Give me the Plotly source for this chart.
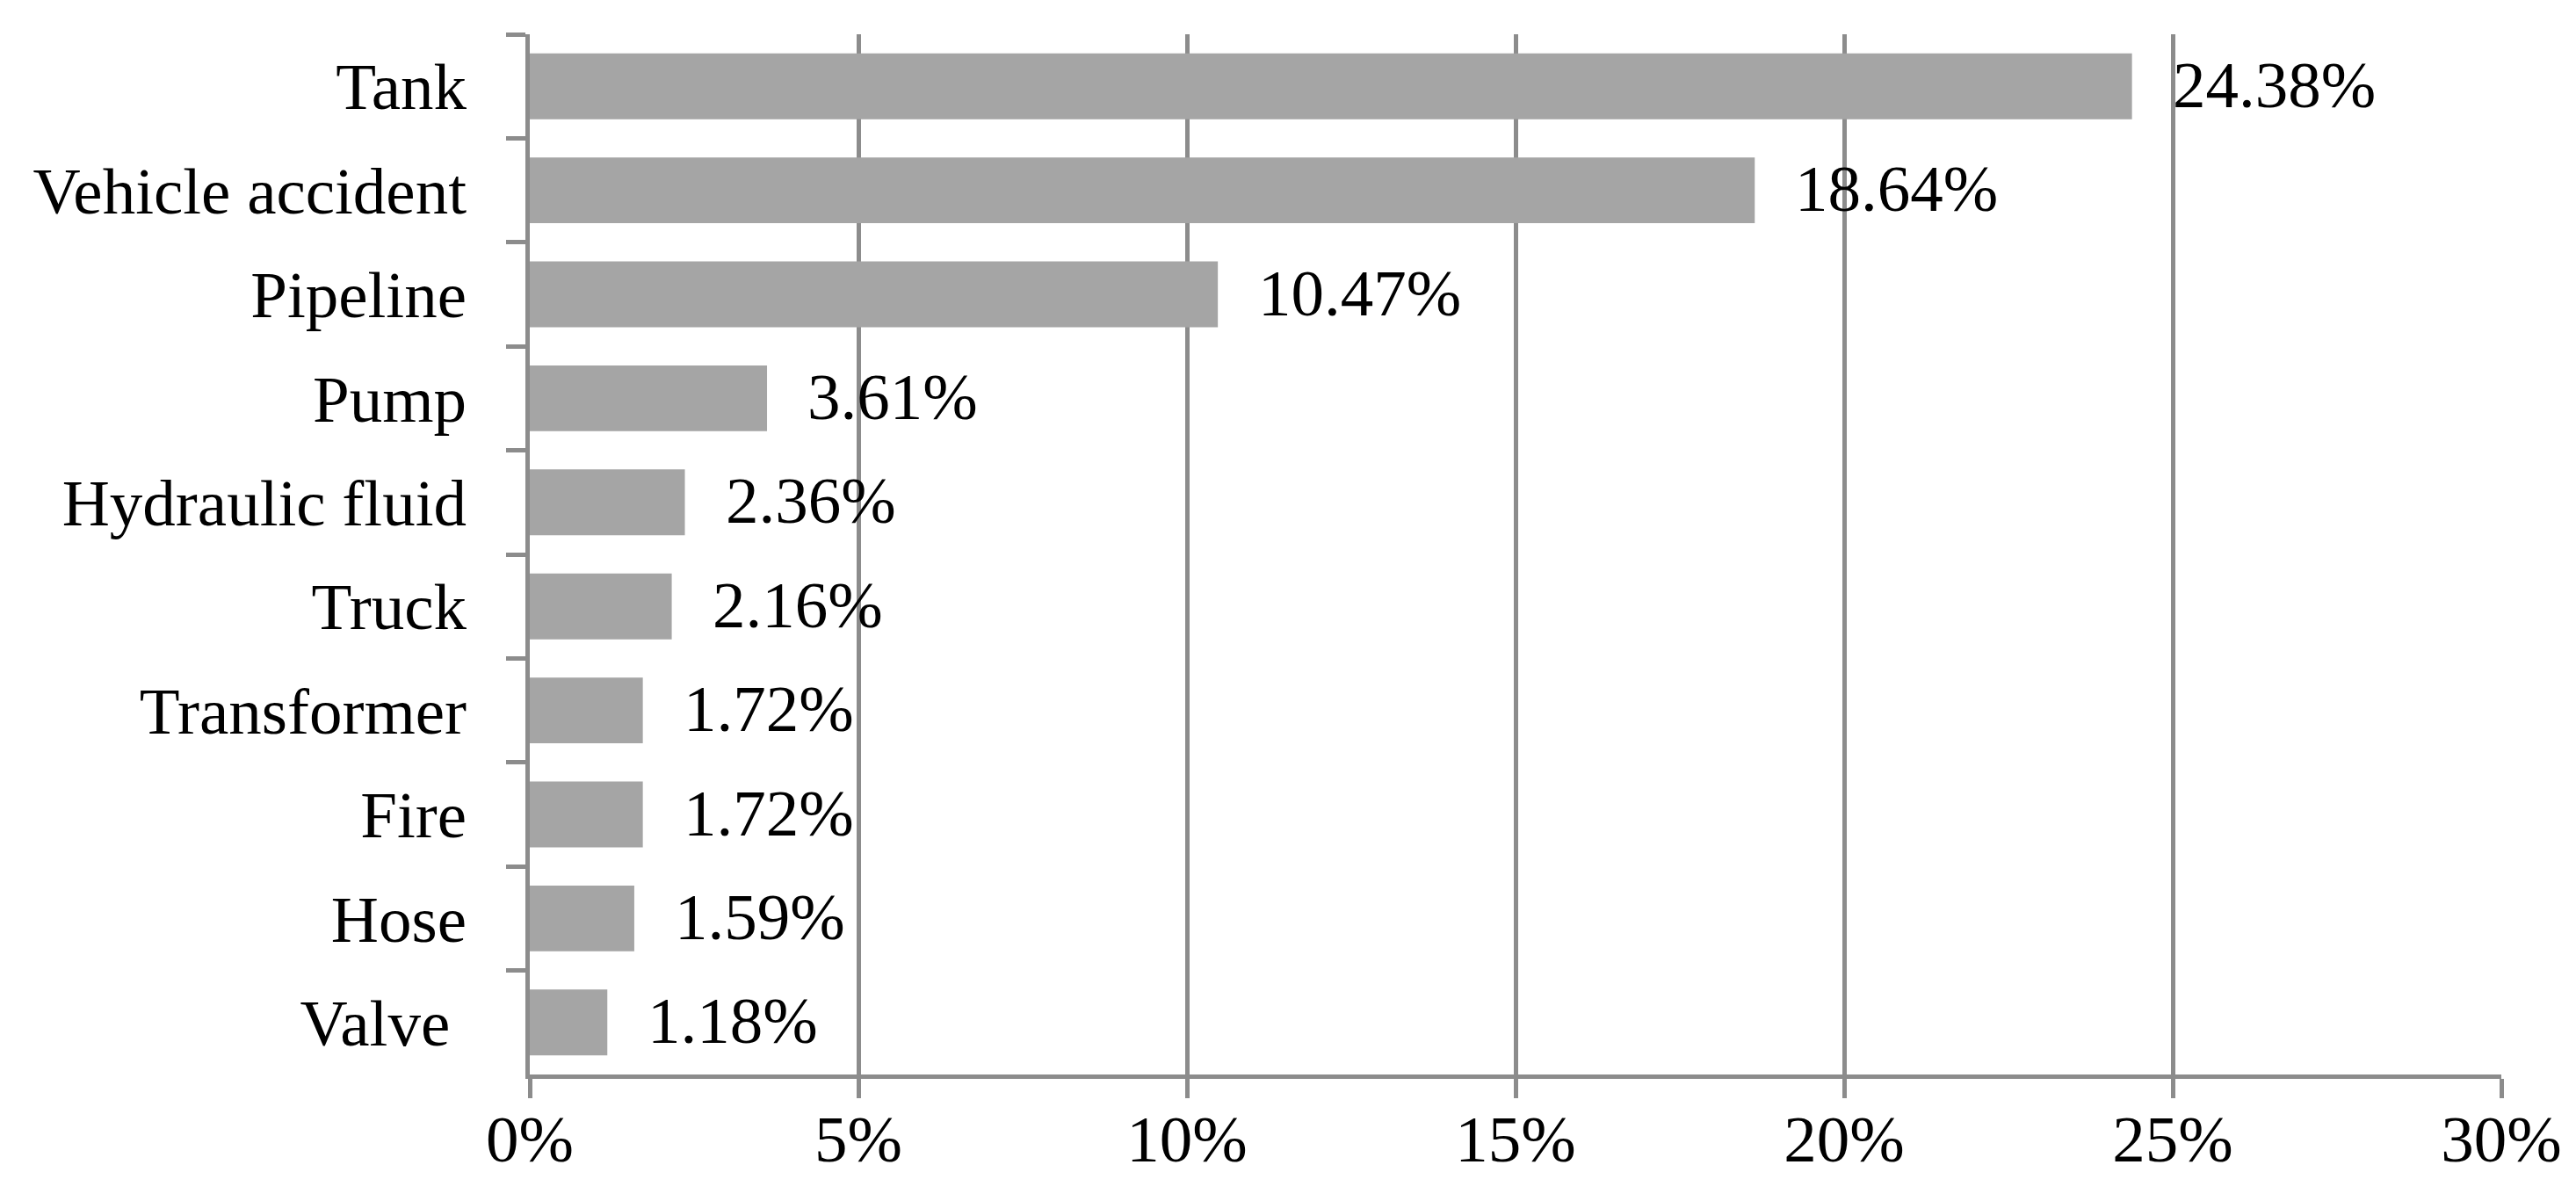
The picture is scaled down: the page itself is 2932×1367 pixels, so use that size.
import plotly.graph_objects as go

categories = ["Tank", "Vehicle accident", "Pipeline", "Pump", "Hydraulic fluid",
              "Truck", "Transformer", "Fire", "Hose", "Valve\u00a0"]
values = [24.38, 18.64, 10.47, 3.61, 2.36, 2.16, 1.72, 1.72, 1.59, 1.18]
value_labels = ["24.38%", "18.64%", "10.47%", "3.61%", "2.36%", "2.16%",
                "1.72%", "1.72%", "1.59%", "1.18%"]
x_ticks = [0, 5, 10, 15, 20, 25, 30]
x_tick_labels = ["0%", "5%", "10%", "15%", "20%", "25%", "30%"]

FONT = "Liberation Serif, Times New Roman, serif"
GRID = "#8c8c8c"
FS = 75

fig = go.Figure()
fig.add_trace(go.Bar(
    x=values, y=categories, orientation="h",
    marker=dict(color="#a5a5a5", line=dict(width=0)),
    hoverinfo="skip",
))

for v, c, t in zip(values, categories, value_labels):
    fig.add_annotation(x=v, y=c, text=t, showarrow=False, xanchor="left",
                       yanchor="middle", xshift=44, yshift=2,
                       font=dict(family=FONT, size=FS, color="black"))

fig.update_layout(
    width=2932, height=1367,
    margin=dict(l=595, r=93, t=31, b=152, autoexpand=False),
    paper_bgcolor="white", plot_bgcolor="white",
    bargap=0.367, showlegend=False,
    font=dict(family=FONT, size=FS, color="black"),
)
fig.update_xaxes(
    range=[0, 30], tickvals=x_ticks, ticktext=x_tick_labels,
    showgrid=True, gridcolor=GRID, gridwidth=5,
    showline=True, linecolor=GRID, linewidth=5,
    ticks="outside", ticklen=22, tickwidth=5, tickcolor=GRID,
    ticklabelstandoff=-18, zeroline=False,
    tickfont=dict(family=FONT, size=FS, color="black"),
)
fig.update_yaxes(
    type="category", autorange="reversed",
    showgrid=False, showline=True, linecolor=GRID, linewidth=5,
    ticks="outside", tickson="boundaries", ticklen=22, tickwidth=5, tickcolor=GRID,
    ticklabelstandoff=52,
    tickfont=dict(family=FONT, size=FS, color="black"),
)

fig.write_html("out.html")
